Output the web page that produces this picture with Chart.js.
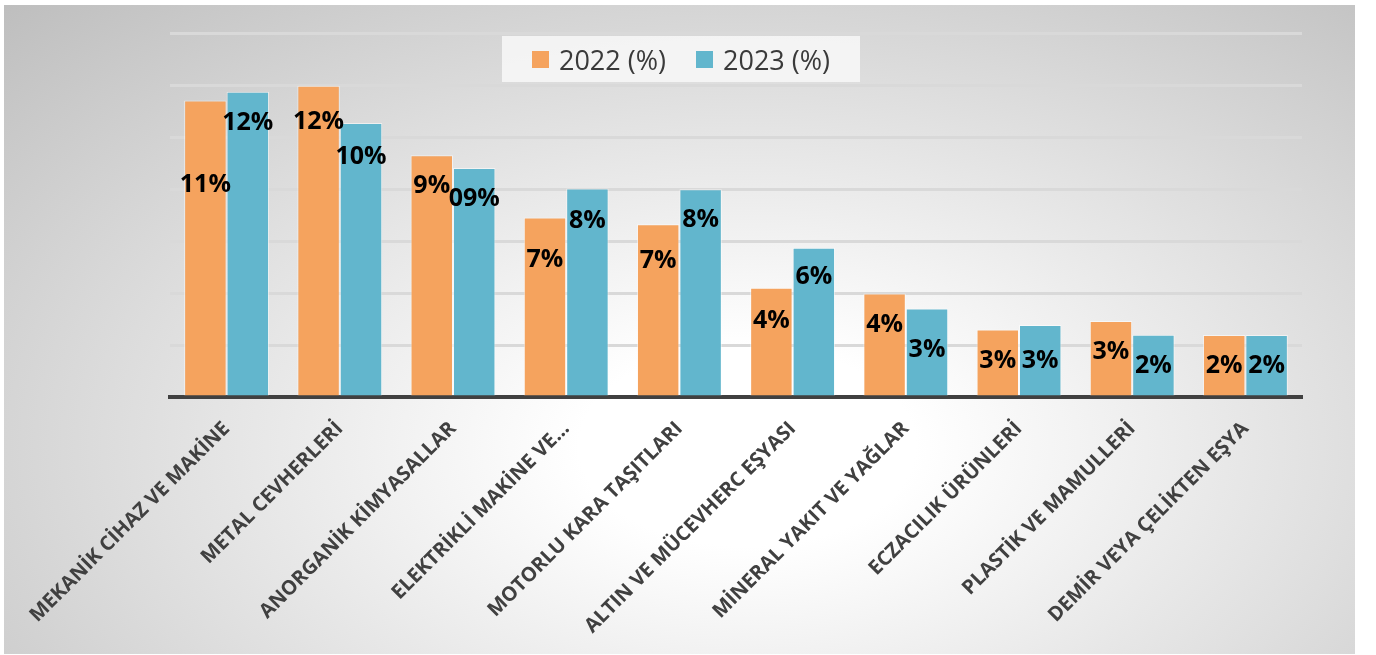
<!DOCTYPE html>
<html>
<head>
<meta charset="utf-8">
<script src="https://cdn.jsdelivr.net/npm/chart.js@4.4.1/dist/chart.umd.min.js"></script>
<style>
    html, body { margin: 0; padding: 0; background: #ffffff; }
    body { width: 1376px; height: 655px; position: relative; overflow: hidden; }
    #frame {
        position: absolute; left: 4px; top: 5px; width: 1351px; height: 649px;
        background: radial-gradient(ellipse farthest-corner at 55% 68%, #ffffff 0%, #ffffff 16%, #bebebe 100%);
    }
    #chartBox { position: absolute; left: 0; top: 0; width: 1351px; height: 649px; }
    #legend {
        position: absolute; left: 498px; top: 31px; width: 358px; height: 46px;
        background: rgba(246, 246, 246, 0.9);
        display: flex; align-items: center; justify-content: center; gap: 30px;
        font-family: "Open Sans", sans-serif; font-size: 27px; color: #3a3a3a;
    }
    .legend-item { display: flex; align-items: center; gap: 10px; }
    .legend-swatch { width: 17px; height: 17px; }
</style>
</head>
<body>
<div id="frame">
    <div id="chartBox"><canvas id="exportChart"></canvas></div>
    <div id="legend"></div>
</div>
<script>
const categories = [
    'MEKANİK CİHAZ VE MAKİNE',
    'METAL CEVHERLERİ',
    'ANORGANİK KİMYASALLAR',
    'ELEKTRİKLİ MAKİNE VE...',
    'MOTORLU KARA TAŞITLARI',
    'ALTIN VE MÜCEVHERC EŞYASI',
    'MİNERAL YAKIT VE YAĞLAR',
    'ECZACILIK ÜRÜNLERİ',
    'PLASTİK VE MAMULLERİ',
    'DEMİR VEYA ÇELİKTEN EŞYA'
];
const seriesNames = ['2022 (%)', '2023 (%)'];
const values2022 = [11.4, 11.97, 9.3, 6.9, 6.64, 4.2, 3.98, 2.6, 2.92, 2.38];
const values2023 = [11.74, 10.54, 8.81, 8.02, 7.99, 5.74, 3.4, 2.77, 2.39, 2.38];
const labels2022 = ['11%', '12%', '9%', '7%', '7%', '4%', '4%', '3%', '3%', '2%'];
const labels2023 = ['12%', '10%', '09%', '8%', '8%', '6%', '3%', '3%', '2%', '2%'];
const yTicks = { min: 0, max: 14, step: 2 };

const colors = ['#f5a35e', '#62b6cd'];

// label drawn inside the bar, a bit below its top
const barLabels = {
    id: 'barLabels',
    afterDatasetsDraw(chart, args, opts) {
        const ctx = chart.ctx;
        ctx.save();
        ctx.font = 'bold 25px "Open Sans", sans-serif';
        ctx.fillStyle = '#000000';
        ctx.textAlign = 'center';
        ctx.textBaseline = 'middle';
        chart.data.datasets.forEach((ds, di) => {
            const meta = chart.getDatasetMeta(di);
            meta.data.forEach((bar, i) => {
                const shift = opts.base + (opts.extra[di][i] || 0);
                ctx.fillText(ds.labelsText[i], bar.x, bar.y + shift);
            });
        });
        ctx.restore();
    }
};

const ctx = document.getElementById('exportChart').getContext('2d');
const chart = new Chart(ctx, {
    type: 'bar',
    data: {
        labels: categories,
        datasets: [
            {
                label: seriesNames[0],
                data: values2022,
                labelsText: labels2022,
                backgroundColor: colors[0],
                borderColor: 'rgba(255,255,255,0.55)',
                borderWidth: 1
            },
            {
                label: seriesNames[1],
                data: values2023,
                labelsText: labels2023,
                backgroundColor: colors[1],
                borderColor: 'rgba(255,255,255,0.55)',
                borderWidth: 1
            }
        ]
    },
    options: {
        responsive: true,
        maintainAspectRatio: false,
        animation: false,
        categoryPercentage: 0.75,
        barPercentage: 1.0,
        layout: { padding: { top: 28, right: 53, left: 0, bottom: 0 } },
        scales: {
            x: {
                grid: { display: false },
                border: { display: true, color: '#404040', width: 4 },
                ticks: {
                    minRotation: 45,
                    maxRotation: 45,
                    color: '#404040',
                    padding: 12,
                    font: { family: '"Open Sans", sans-serif', size: 20, weight: 'bold' }
                },
                afterFit(scale) { scale.height = 257; }
            },
            y: {
                min: yTicks.min,
                max: yTicks.max,
                ticks: { stepSize: yTicks.step, display: false },
                grid: { color: '#d9d9d9', lineWidth: 3, drawTicks: false },
                border: { display: false },
                afterFit(scale) { scale.width = 166; }
            }
        },
        plugins: {
            legend: { display: false },
            tooltip: { enabled: false },
            barLabels: {
                base: 31,
                extra: [
                    [53, 5, 0, 11, 6, 2, 0, 0, 0, 0],
                    [0, 3, 0, 1, 0, -2, 10, 5, 0, 0]
                ]
            }
        }
    },
    plugins: [barLabels]
});

document.getElementById('legend').innerHTML = chart.data.datasets.map(ds => `
    <div class="legend-item">
        <div class="legend-swatch" style="background:${ds.backgroundColor}"></div>
        <span>${ds.label}</span>
    </div>
`).join('');
</script>
</body>
</html>
